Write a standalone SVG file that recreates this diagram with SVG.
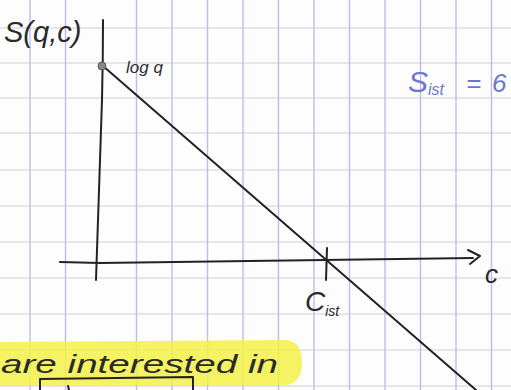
<svg xmlns="http://www.w3.org/2000/svg" width="511" height="390" viewBox="0 0 511 390">
<style>
.vg{stroke:#bcbcee;stroke-width:1.4}
.hg{stroke:#dedede;stroke-width:1.3}
.ink{stroke:#222;stroke-width:2;fill:none;stroke-linecap:round;stroke-linejoin:round}
.t{font-family:"Liberation Sans",Arial,sans-serif;font-style:italic;fill:#2a2a2a}
.b{font-family:"Liberation Sans",Arial,sans-serif;font-style:italic;fill:#6a78cc}
</style>
<rect width="511" height="390" fill="#fdfdfd"/>
<g id="grid">
<line class="hg" x1="0" y1="28" x2="511" y2="28"/>
<line class="hg" x1="0" y1="63" x2="511" y2="63"/>
<line class="hg" x1="0" y1="98" x2="511" y2="98"/>
<line class="hg" x1="0" y1="133" x2="511" y2="133"/>
<line class="hg" x1="0" y1="170" x2="511" y2="170"/>
<line class="hg" x1="0" y1="206" x2="511" y2="206"/>
<line class="hg" x1="0" y1="242" x2="511" y2="242"/>
<line class="hg" x1="0" y1="278" x2="511" y2="278"/>
<line class="hg" x1="0" y1="314" x2="511" y2="314"/>
<line class="hg" x1="0" y1="350" x2="511" y2="350"/>
<line class="hg" x1="0" y1="386" x2="511" y2="386"/>
<line class="vg" x1="30" y1="0" x2="30" y2="390"/>
<line class="vg" x1="65.5" y1="0" x2="65.5" y2="390"/>
<line class="vg" x1="136.5" y1="0" x2="136.5" y2="390"/>
<line class="vg" x1="172" y1="0" x2="172" y2="390"/>
<line class="vg" x1="207.5" y1="0" x2="207.5" y2="390"/>
<line class="vg" x1="243" y1="0" x2="243" y2="390"/>
<line class="vg" x1="278.5" y1="0" x2="278.5" y2="390"/>
<line class="vg" x1="314" y1="0" x2="314" y2="390"/>
<line class="vg" x1="349.5" y1="0" x2="349.5" y2="390"/>
<line class="vg" x1="385" y1="0" x2="385" y2="390"/>
<line class="vg" x1="420.5" y1="0" x2="420.5" y2="390"/>
<line class="vg" x1="456" y1="0" x2="456" y2="390"/>
<line class="vg" x1="491.5" y1="0" x2="491.5" y2="390"/>
</g>
<g id="highlight">
<path d="M0 342 L285 340 Q302 341 302 362 Q302 384 285 385 L0 386 Z" fill="#f3f148" opacity="0.85"/>
</g>
<g id="axes">
<path class="ink" d="M103 20 Q103 60 102 100 L96 280"/>
<path class="ink" d="M60 262 L100 263 L473 258"/>
<path class="ink" d="M468 250 L480 256 L470 264"/>
<path class="ink" d="M327 248 L326 280"/>
</g>
<g id="curve">
<path class="ink" d="M103 66 L476 390"/>
<circle cx="102" cy="66" r="4" fill="#888" stroke="#555" stroke-width="1"/>
</g>
<g id="labels">
<text class="t" x="4" y="42" font-size="29">S(q,c)</text>
<text class="t" x="126" y="73" font-size="17">log q</text>
<text class="b" x="408" y="92" font-size="30">S<tspan font-size="16" dy="3">ist</tspan><tspan dy="-3" x="466" font-size="26">=</tspan><tspan x="492" font-size="26">6</tspan></text>
<text class="t" x="485" y="283" font-size="26">c</text>
<text class="t" x="305" y="311" font-size="28">C<tspan font-size="14" dy="5">ist</tspan></text>
<text class="t" x="1" y="373" font-size="25" fill="#33331a" textLength="277" lengthAdjust="spacingAndGlyphs">are interested in</text>
</g>
<g id="box">
<path class="ink" d="M40 390 L40 379 L193 377 L193 390"/>
<path class="ink" d="M68 386 L69 390"/>
</g>
</svg>
